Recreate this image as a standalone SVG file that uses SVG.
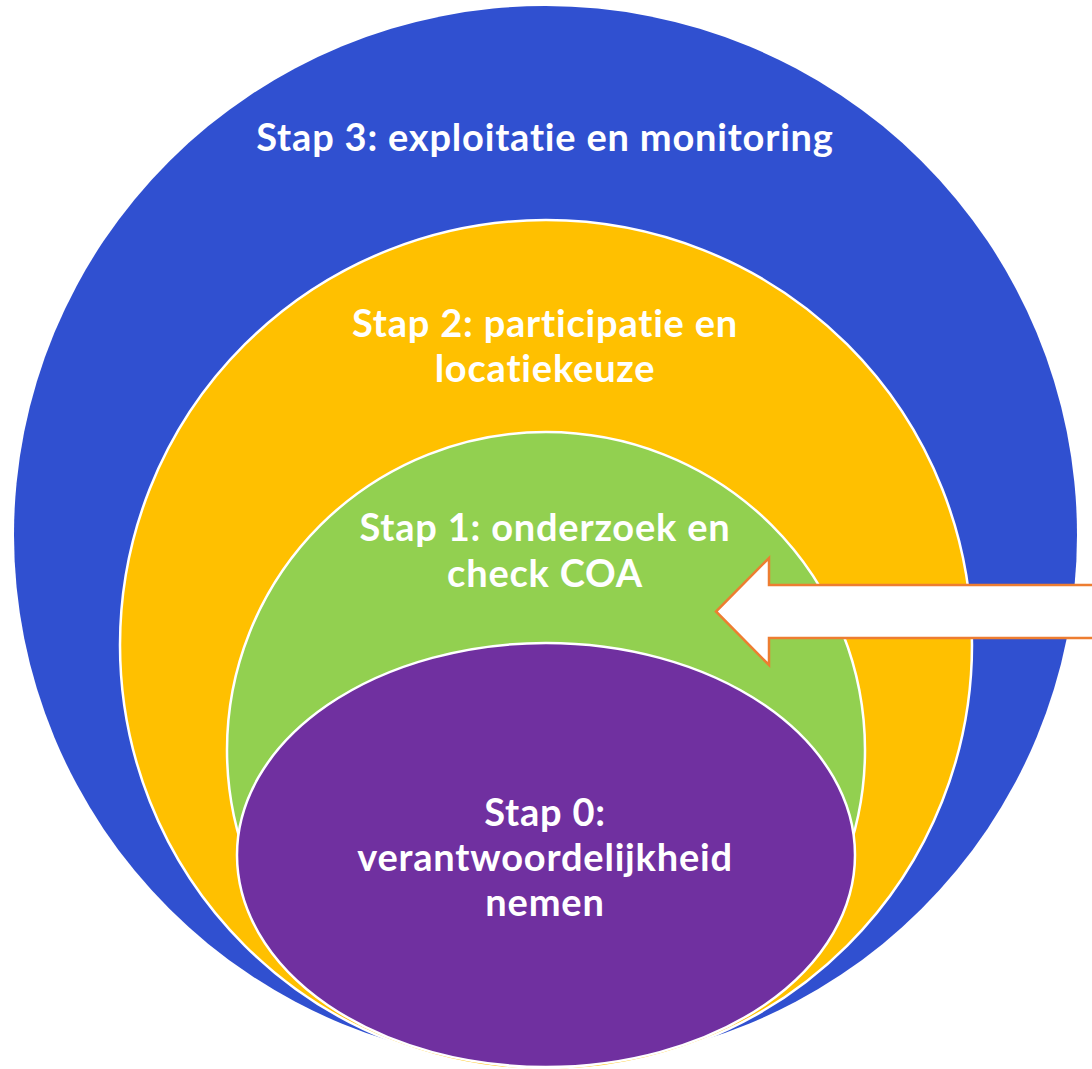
<svg xmlns="http://www.w3.org/2000/svg" width="1092" height="1069" viewBox="0 0 1092 1069">
<style>
.ring{stroke:#ffffff;stroke-width:2.5}
.lbl{font-family:Lato,"Open Sans","Liberation Sans",sans-serif;font-weight:bold;font-size:38px;letter-spacing:0.8px;fill:#ffffff;text-anchor:middle}
</style>
<rect width="1092" height="1069" fill="#ffffff"/>
<g id="stap3">
<ellipse cx="545.5" cy="535" rx="531.5" ry="529" fill="#3050D0"/>
<text class="lbl" x="545" y="151">Stap 3: exploitatie en monitoring</text>
</g>
<g id="stap2">
<ellipse class="ring" cx="546" cy="645" rx="426" ry="425" fill="#FFC000"/>
<text class="lbl" x="545" y="337">Stap 2: participatie en</text>
<text class="lbl" x="545" y="382">locatiekeuze</text>
</g>
<g id="stap1">
<ellipse class="ring" cx="546" cy="750" rx="319" ry="318" fill="#92D050"/>
<text class="lbl" x="545" y="541">Stap 1: onderzoek en</text>
<text class="lbl" x="545" y="587">check COA</text>
</g>
<g id="stap0">
<ellipse class="ring" cx="546" cy="855" rx="309" ry="212" fill="#7030A0"/>
<text class="lbl" x="545" y="826">Stap 0:</text>
<text class="lbl" x="545" y="871">verantwoordelijkheid</text>
<text class="lbl" x="545" y="916">nemen</text>
</g>
<g id="connectors">
<path d="M1100,585 L769,585 L769,558 L716,611.5 L769,665 L769,638 L1100,638 Z" fill="#ffffff" stroke="#ED7D31" stroke-width="2.5" stroke-linejoin="miter"/>
</g>
</svg>
